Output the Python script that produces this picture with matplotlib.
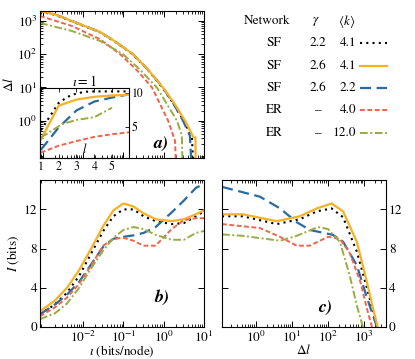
import numpy as np
import matplotlib
matplotlib.use('Agg')
import matplotlib.pyplot as plt
from matplotlib.lines import Line2D
from matplotlib.ticker import LogLocator, NullFormatter

plt.rcParams['font.family'] = 'STIXGeneral'
plt.rcParams['mathtext.fontset'] = 'stix'
plt.rcParams['font.size'] = 9.5
plt.rcParams['axes.linewidth'] = 0.8

# network types (legend table)
net_names = ['SF', 'SF', 'SF', 'ER', 'ER']
net_gamma = ['2.2', '2.6', '2.6', '\u2013', '\u2013']
net_k = ['4.1', '4.1', '2.2', '4.0', '12.0']

# panel a: log10(iota) vs log10(delta l)
a_x_sf22 = [-3.07, -2.7, -2.28, -1.58, -1.2, -0.76, -0.4, -0.02, 0.25, 0.5, 0.7, 0.76]
a_y_sf22 = [3.28, 3.19, 2.99, 2.66, 2.37, 1.99, 1.54, 0.98, 0.5, 0.0, -0.5, -2.0]
a_x_sf26 = [-3.07, -2.7, -2.28, -1.58, -1.2, -0.76, -0.4, -0.02, 0.25, 0.53, 0.74, 0.79, 0.79]
a_y_sf26 = [3.3, 3.2, 3.0, 2.67, 2.38, 2.0, 1.55, 1.0, 0.55, 0.0, -0.5, -0.5, -2.0]
a_x_sf26b = [-3.07, -2.7, -2.28, -1.58, -1.2, -0.76, -0.4, -0.02, 0.25, 0.48, 0.65, 0.72]
a_y_sf26b = [3.3, 3.2, 3.0, 2.67, 2.38, 2.0, 1.55, 1.0, 0.5, 0.0, -0.45, -2.0]
a_x_er4 = [-3.07, -2.28, -1.58, -1.08, -0.65, -0.29, 0.11, 0.28, 0.33]
a_y_er4 = [3.15, 2.85, 2.45, 2.0, 1.5, 1.0, 0.0, -0.6, -2.0]
a_x_er12 = [-3.07, -2.28, -1.58, -1.01, -0.6, -0.17, 0.33, 0.45, 0.48]
a_y_er12 = [2.94, 2.7, 2.4, 2.0, 1.55, 1.0, 0.0, -0.45, -2.0]

# inset: l vs value at iota = 1
in_x_sf22 = [1, 2, 2.5, 3, 3.5, 4, 5, 6]
in_y_sf22 = [4.5, 8.5, 9.4, 9.9, 10.15, 10.2, 10.2, 10.2]
in_x_sf26 = [1, 2, 3, 4, 5, 6]
in_y_sf26 = [3.1, 8.1, 9.0, 9.4, 9.6, 9.7]
in_x_sf26b = [1, 2, 3, 4, 5, 6]
in_y_sf26b = [1.6, 4.9, 7.4, 8.7, 9.3, 9.8]
in_x_er4 = [1, 2, 3, 4, 5, 6]
in_y_er4 = [1.2, 2.2, 2.9, 3.5, 3.9, 4.2]
in_x_er12 = [1, 2.2, 3, 4, 5]
in_y_er12 = [3.4, 5.4, 6.0, 6.4, 7.8]

# panel b: log10(iota) vs I (bits)
b_x = [-3.07, -2.7, -2.4, -2.1, -1.8, -1.5, -1.25, -1.0, -0.75, -0.5, -0.2, 0.2, 0.5, 0.8, 1.0]
b_sf22 = [1.3, 2.3, 3.5, 5.2, 7.5, 9.8, 11.3, 12.0, 12.0, 11.3, 10.8, 10.5, 10.6, 11.3, 11.8]
b_sf26 = [1.6, 2.7, 4.0, 5.8, 8.0, 10.3, 11.9, 12.6, 12.3, 11.6, 11.0, 10.8, 11.0, 11.5, 11.9]
b_sf26b = [1.3, 2.3, 3.3, 4.6, 6.4, 8.2, 9.0, 9.2, 9.35, 9.6, 10.2, 11.7, 12.9, 14.2, 14.6]
b_er4 = [1.1, 2.0, 3.0, 4.4, 6.3, 8.3, 9.0, 9.1, 8.8, 8.3, 8.3, 10.0, 10.9, 11.1, 11.1]
b_er12 = [0.8, 1.4, 2.4, 4.0, 6.0, 7.8, 9.1, 9.9, 10.2, 10.0, 9.4, 8.9, 8.9, 9.6, 9.8]

# panel c: log10(delta l) vs I (bits)
c_x_sf22 = [-0.94, -0.36, 0.58, 1.22, 1.69, 2.1, 2.42, 2.8, 3.08, 3.25, 3.36]
c_y_sf22 = [11.3, 11.3, 10.5, 11.0, 11.8, 12.1, 11.2, 7.7, 4.0, 1.6, 0.0]
c_x_sf26 = [-0.94, -0.36, 0.58, 1.22, 1.69, 2.1, 2.42, 2.8, 3.08, 3.25, 3.38]
c_y_sf26 = [11.5, 11.5, 10.8, 11.3, 12.1, 12.6, 11.8, 8.7, 4.6, 1.9, 0.0]
c_x_sf26b = [-0.94, 0.11, 0.67, 1.13, 1.5, 2.14, 2.42, 2.8, 3.08, 3.36]
c_y_sf26b = [14.3, 13.3, 12.1, 10.7, 9.9, 9.4, 8.7, 6.3, 3.0, 0.0]
c_x_er4 = [-0.94, 0.11, 0.67, 1.13, 1.5, 2.0, 2.33, 2.6, 2.9, 3.08, 3.22]
c_y_er4 = [10.5, 10.1, 9.2, 8.3, 8.3, 9.2, 9.0, 7.6, 4.6, 1.9, 0.0]
c_x_er12 = [-0.94, -0.36, 0.67, 1.13, 1.72, 2.0, 2.33, 2.6, 2.8, 2.97]
c_y_er12 = [9.45, 9.3, 8.8, 9.3, 10.2, 10.0, 8.7, 5.3, 2.2, 0.0]

# styles per network
styles = [
    dict(color='black', ls=(0, (1, 2)), lw=1.5),
    dict(color='#f7b125', ls='-', lw=1.6),
    dict(color='#2a6aa3', ls=(0, (5, 2.5)), lw=1.6),
    dict(color='#f2634c', ls=(0, (2.5, 1.3)), lw=1.4),
    dict(color='#9aab3f', ls=(0, (4, 1.3, 1, 1.3)), lw=1.4),
]

W, H = 415, 359
fig = plt.figure(figsize=(W / 100, H / 100), dpi=100)


def box(x0, y0, x1, y1):
    # pixel box -> figure fraction
    return [x0 / W, 1 - y1 / H, (x1 - x0) / W, (y1 - y0) / H]


def log_ticks(ax, axis):
    loc_maj = LogLocator(base=10, numticks=20)
    loc_min = LogLocator(base=10, subs=np.arange(2, 10), numticks=20)
    a = ax.xaxis if axis == 'x' else ax.yaxis
    a.set_major_locator(loc_maj)
    a.set_minor_locator(loc_min)
    a.set_minor_formatter(NullFormatter())


def frame(ax):
    ax.tick_params(which='both', direction='in', top=True, right=True, pad=2)
    ax.tick_params(which='major', length=4, width=0.7)
    ax.tick_params(which='minor', length=2, width=0.6)


# ---- panel a
axa = fig.add_axes(box(40, 11, 204, 158))
a_data = [(a_x_sf22, a_y_sf22), (a_x_sf26, a_y_sf26), (a_x_sf26b, a_y_sf26b),
          (a_x_er4, a_y_er4), (a_x_er12, a_y_er12)]
order = [0, 2, 1, 3, 4]
for i in order:
    x, y = a_data[i]
    axa.plot(10 ** np.array(x), 10 ** np.array(y), **styles[i])
axa.set_xscale('log')
axa.set_yscale('log')
axa.set_xlim(10 ** -3.07, 10 ** 1.0)
axa.set_ylim(10 ** -1.12, 10 ** 3.3)
log_ticks(axa, 'x')
log_ticks(axa, 'y')
axa.set_yticks([1, 10, 100, 1000])
axa.xaxis.set_major_formatter(NullFormatter())
frame(axa)
axa.set_ylabel(r'$\Delta l$', labelpad=1)
axa.text(0.74, 0.10, 'a)', transform=axa.transAxes, fontsize=13,
         fontweight='bold', fontstyle='italic', ha='center', va='center')

# ---- inset
axi = fig.add_axes(box(40, 88, 129, 158), facecolor='none')
in_data = [(in_x_sf22, in_y_sf22), (in_x_sf26, in_y_sf26), (in_x_sf26b, in_y_sf26b),
           (in_x_er4, in_y_er4), (in_x_er12, in_y_er12)]
for i in order:
    x, y = in_data[i]
    axi.plot(x, y, **styles[i])
axi.set_xlim(0.95, 5.95)
axi.set_ylim(0.4, 10.7)
axi.set_xticks([1, 2, 3, 4, 5])
axi.set_yticks([5, 10])
axi.tick_params(direction='in', top=True, right=True, left=False,
                labelleft=False, labelright=True, length=3, width=0.6,
                labelsize=8.5, pad=2)
axi.text(0.5, 0.13, r'$l$', transform=axi.transAxes, ha='center', va='center',
         fontsize=9)
axi.text(0.5, 1.1, r'$\iota = 1$', transform=axi.transAxes, ha='center',
         va='center', fontsize=10)

# ---- panel b
axb = fig.add_axes(box(40, 180, 204, 327))
b_lines = [b_sf22, b_sf26, b_sf26b, b_er4, b_er12]
for i in order:
    axb.plot(10 ** np.array(b_x), b_lines[i], **styles[i])
axb.set_xscale('log')
axb.set_xlim(10 ** -3.07, 10 ** 1.0)
axb.set_ylim(0, 15)
log_ticks(axb, 'x')
axb.set_xticks([1e-2, 1e-1, 1, 10])
axb.set_yticks([0, 4, 8, 12])
frame(axb)
axb.set_xlabel(r'$\iota$ (bits/node)', labelpad=-1)
axb.set_ylabel(r'$I$ (bits)', labelpad=2)
axb.text(0.74, 0.2, 'b)', transform=axb.transAxes, fontsize=13,
         fontweight='bold', fontstyle='italic', ha='center', va='center')

# ---- panel c
axc = fig.add_axes(box(222, 180, 386, 327))
c_data = [(c_x_sf22, c_y_sf22), (c_x_sf26, c_y_sf26), (c_x_sf26b, c_y_sf26b),
          (c_x_er4, c_y_er4), (c_x_er12, c_y_er12)]
for i in order:
    x, y = c_data[i]
    axc.plot(10 ** np.array(x), y, **styles[i])
axc.set_xscale('log')
axc.set_xlim(10 ** -0.94, 10 ** 3.61)
axc.set_ylim(0, 15)
log_ticks(axc, 'x')
axc.set_xticks([1, 10, 100, 1000])
axc.set_yticks([0, 4, 8, 12])
frame(axc)
axc.tick_params(labelleft=False, labelright=True)
axc.set_xlabel(r'$\Delta l$', labelpad=-1)
axc.text(0.63, 0.13, 'c)', transform=axc.transAxes, fontsize=13,
         fontweight='bold', fontstyle='italic', ha='center', va='center')

# ---- legend table
fs = 9.5
fig.text(267 / W, 1 - 21 / H, 'Network', ha='center', va='center', fontsize=fs)
fig.text(316 / W, 1 - 21 / H, r'$\gamma$', ha='center', va='center', fontsize=fs)
fig.text(347 / W, 1 - 21 / H, r'$\langle k\rangle$', ha='center', va='center', fontsize=fs)
row_y = [43, 66, 88, 110, 133]
for i in range(5):
    yy = 1 - row_y[i] / H
    fig.text(274 / W, yy, net_names[i], ha='center', va='center', fontsize=fs)
    fig.text(326 / W if net_gamma[i] != '\u2013' else 322 / W, yy, net_gamma[i],
             ha='right', va='center', fontsize=fs)
    fig.text(356 / W, yy, net_k[i], ha='right', va='center', fontsize=fs)
    fig.add_artist(Line2D([360 / W, 387 / W], [yy, yy], transform=fig.transFigure,
                          **styles[i]))

fig.savefig('out.png', dpi=100)
